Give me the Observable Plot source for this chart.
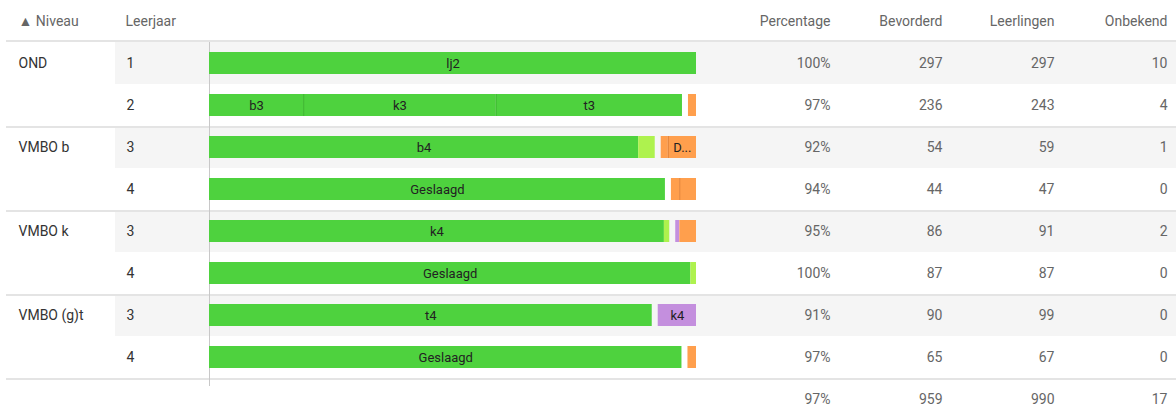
<!DOCTYPE html>
<html>
<head>
<meta charset="utf-8">
<script src="https://cdn.jsdelivr.net/npm/d3@7"></script>
<script src="https://cdn.jsdelivr.net/npm/@observablehq/plot@0.6"></script>
<style>
  html, body { margin: 0; padding: 0; background: #fff; }
  svg { display: block; }
</style>
</head>
<body>
<div id="chart"></div>
<script>
// ---- data ----
const niveaus    = ["OND", "OND", "VMBO b", "VMBO b", "VMBO k", "VMBO k", "VMBO (g)t", "VMBO (g)t"];
const leerjaren  = ["1", "2", "3", "4", "3", "4", "3", "4"];
const percentages = ["100%", "97%", "92%", "94%", "95%", "100%", "91%", "97%"];
const bevorderd  = [297, 236, 54, 44, 86, 87, 90, 65];
const leerlingen = [297, 243, 59, 47, 91, 87, 99, 67];
const onbekend   = [10, 4, 1, 0, 2, 0, 0, 0];
const totals     = {percentage: "97%", bevorderd: 959, leerlingen: 990, onbekend: 17};
const headers    = ["▲ Niveau", "Leerjaar", "Percentage", "Bevorderd", "Leerlingen", "Onbekend"];

// bar segments: row index, label, count, kind
const segRow   = [0, 1, 1, 1, 1, 2, 2, 2, 2, 3, 3, 3, 4, 4, 4, 4, 5, 5, 6, 6, 7, 7];
const segLabel = ["lj2", "b3", "k3", "t3", "", "b4", "", "", "D...", "Geslaagd", "", "", "k4", "", "", "", "Geslaagd", "", "t4", "k4", "Geslaagd", ""];
const segCount = [297, 47, 96, 93, 7, 52, 2, 1, 4, 44, 1, 2, 85, 1, 1, 4, 86, 1, 90, 9, 65, 2];
const segKind  = ["g", "g", "g", "g", "o", "g", "lg", "o", "o", "g", "o", "o", "g", "lg", "p", "o", "g", "lg", "g", "p", "g", "o"];

// ---- styling ----
const kindColor = {g: "#4ed23e", lg: "#aef24e", o: "#ff9f4d", p: "#c48fde"};
const kindDivider = {g: "#3cb52e", lg: "#8fd23a", o: "#e0823a", p: "#a472c0"};
const bevorderdKinds = new Set(["g", "lg"]);
const xRange = [209, 696];
const GAP_PX = 6;
const ROW_H = 42;

// ---- build ----
const keys = niveaus.map((n, i) => n + "|" + leerjaren[i]);
const yDomain = ["header", ...keys, "total"];
const gapFrac = GAP_PX / (xRange[1] - xRange[0]);

const segs = [];
keys.forEach((key, r) => {
  const n = leerlingen[r];
  const idx = segRow.map((v, i) => v === r ? i : -1).filter(i => i >= 0);
  const bev = idx.filter(i => bevorderdKinds.has(segKind[i]));
  const non = idx.filter(i => !bevorderdKinds.has(segKind[i]));
  let c = 0;
  let prevKind = null;
  for (const i of bev) {
    const x1 = c / n; c += segCount[i]; const x2 = c / n;
    segs.push({key, x1, x2, label: segLabel[i], kind: segKind[i], divider: prevKind === segKind[i]});
    prevKind = segKind[i];
  }
  const p = c / n;
  const k = (1 - p - gapFrac) / (1 - p);
  prevKind = null;
  for (const i of non) {
    const s = c / n; c += segCount[i]; const e = c / n;
    segs.push({key, x1: 1 - (1 - s) * k, x2: 1 - (1 - e) * k, label: segLabel[i], kind: segKind[i], divider: prevKind === segKind[i]});
    prevKind = segKind[i];
  }
});

const rows = keys.map((key, i) => ({
  key, niveau: i % 2 === 0 ? niveaus[i] : "", leerjaar: leerjaren[i],
  pct: percentages[i], bev: bevorderd[i], ll: leerlingen[i], onb: onbekend[i]
}));
const stripeKeys = keys.filter((_, i) => i % 2 === 0);
const groupLineKeys = [keys[2], keys[4], keys[6], "total"];

const FONT = "Roboto, 'Open Sans', sans-serif";
const textOpts = {fontSize: 14, frameAnchor: "left"};

const cols = {niveau: 18, leerjaar: 126, pct: 830, bev: 942, ll: 1054, onb: 1167};

const chart = Plot.plot({
  width: 1176,
  height: 408,
  marginLeft: 0, marginRight: 0, marginTop: 0, marginBottom: 0,
  style: {fontFamily: FONT, fontSize: "14px", background: "#fff"},
  x: {domain: [0, 1], range: xRange, axis: null},
  y: {type: "band", domain: yDomain, range: [0, ROW_H * yDomain.length], padding: 0, axis: null},
  marks: [
    // row stripes
    Plot.cell(stripeKeys, {y: d => d, fill: "#f5f5f5", insetLeft: 115}),
    // header line
    Plot.cell(["header"], {y: d => d, fill: "#e4e4e4", insetTop: ROW_H - 2, insetLeft: 6}),
    // group lines
    Plot.cell(groupLineKeys, {y: d => d, fill: "#e4e4e4", insetBottom: ROW_H - 2, insetLeft: 6}),
    // axis line
    Plot.ruleX([0], {stroke: "#c8c8c8", strokeWidth: 1, insetTop: ROW_H, insetBottom: 22}),
    // bars
    Plot.barX(segs, {x1: "x1", x2: "x2", y: "key", fill: d => kindColor[d.kind], insetTop: 10, insetBottom: 10}),
    // dividers between same-coloured segments
    Plot.tickX(segs.filter(d => d.divider), {x: "x1", y: "key", stroke: d => kindDivider[d.kind], strokeWidth: 1, insetTop: 10, insetBottom: 10}),
    // bar labels
    Plot.text(segs.filter(d => d.label), {x: d => (d.x1 + d.x2) / 2, y: "key", text: "label", fill: "#222", fontSize: 13}),
    // headers
    Plot.text(["header"], {...textOpts, y: d => d, text: () => headers[0], dx: cols.niveau, textAnchor: "start", fill: "#666"}),
    Plot.text(["header"], {...textOpts, y: d => d, text: () => headers[1], dx: cols.leerjaar - 1, textAnchor: "start", fill: "#666"}),
    Plot.text(["header"], {...textOpts, y: d => d, text: () => headers[2], dx: cols.pct, textAnchor: "end", fill: "#666"}),
    Plot.text(["header"], {...textOpts, y: d => d, text: () => headers[3], dx: cols.bev, textAnchor: "end", fill: "#666"}),
    Plot.text(["header"], {...textOpts, y: d => d, text: () => headers[4], dx: cols.ll, textAnchor: "end", fill: "#666"}),
    Plot.text(["header"], {...textOpts, y: d => d, text: () => headers[5], dx: cols.onb, textAnchor: "end", fill: "#666"}),
    // body
    Plot.text(rows, {...textOpts, y: "key", text: "niveau", dx: cols.niveau, textAnchor: "start", fill: "#333"}),
    Plot.text(rows, {...textOpts, y: "key", text: "leerjaar", dx: cols.leerjaar, textAnchor: "start", fill: "#333"}),
    Plot.text(rows, {...textOpts, y: "key", text: "pct", dx: cols.pct, textAnchor: "end", fill: "#666"}),
    Plot.text(rows, {...textOpts, y: "key", text: "bev", dx: cols.bev, textAnchor: "end", fill: "#666"}),
    Plot.text(rows, {...textOpts, y: "key", text: "ll", dx: cols.ll, textAnchor: "end", fill: "#666"}),
    Plot.text(rows, {...textOpts, y: "key", text: "onb", dx: cols.onb, textAnchor: "end", fill: "#666"}),
    // totals
    Plot.text([totals], {...textOpts, y: () => "total", text: "percentage", dx: cols.pct, textAnchor: "end", fill: "#666"}),
    Plot.text([totals], {...textOpts, y: () => "total", text: "bevorderd", dx: cols.bev, textAnchor: "end", fill: "#666"}),
    Plot.text([totals], {...textOpts, y: () => "total", text: "leerlingen", dx: cols.ll, textAnchor: "end", fill: "#666"}),
    Plot.text([totals], {...textOpts, y: () => "total", text: "onbekend", dx: cols.onb, textAnchor: "end", fill: "#666"})
  ]
});
document.getElementById("chart").appendChild(chart);
</script>
</body>
</html>
